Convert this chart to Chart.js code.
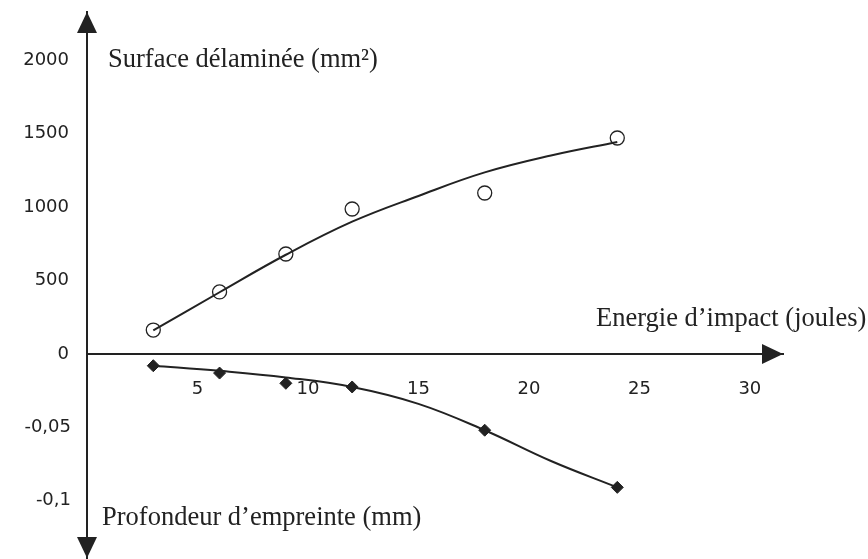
<!DOCTYPE html>
<html>
<head>
<meta charset="utf-8">
<script src="https://cdn.jsdelivr.net/npm/chart.js@4/dist/chart.umd.min.js"></script>
<style>
  html, body { margin: 0; padding: 0; background: #fff; overflow: hidden; }
  canvas { display: block; }
</style>
</head>
<body>
<canvas id="graph" width="868" height="559"></canvas>
<script>
// measured points
const energies = [3, 6, 9, 12, 18, 24];
const surfacePts = [163, 422, 680, 986, 1095, 1469];
const depthPts = [-0.008, -0.013, -0.020, -0.0225, -0.052, -0.091];

// fitted curves
const curveEnergies = [3, 6, 9, 12, 15, 18, 21, 24];
const surfaceCurve = [160, 420, 675, 900, 1075, 1235, 1350, 1442];
const depthCurve = [-0.008, -0.0115, -0.016, -0.0225, -0.034, -0.052, -0.073, -0.091];

// tick labels
const xTicks = [5, 10, 15, 20, 25, 30];
const surfaceTicks = [0, 500, 1000, 1500, 2000];
const depthTicks = [-0.05, -0.1];

const ink = "#222";
const tickFont = { family: "DejaVu Sans", size: 18 };

function pairs(xs, ys) {
    return xs.map((x, i) => ({ x: x, y: ys[i] }));
}

function noPad(s) {
    s.paddingTop = 0;
    s.paddingBottom = 0;
    s.paddingLeft = 0;
    s.paddingRight = 0;
}

// arrows at the ends of both axes + the axis captions
const axisDecor = {
    id: "axisDecor",
    afterDraw(chart) {
        const c = chart.ctx;
        const area = chart.chartArea;
        const x0 = chart.scales.x.getPixelForValue(0);
        const y0 = chart.scales.y.getPixelForValue(0);
        c.save();
        c.fillStyle = ink;
        // up arrow
        c.beginPath();
        c.moveTo(x0, area.top);
        c.lineTo(x0 - 10, area.top + 21);
        c.lineTo(x0 + 10, area.top + 21);
        c.closePath();
        c.fill();
        // down arrow
        c.beginPath();
        c.moveTo(x0, area.bottom);
        c.lineTo(x0 - 10, area.bottom - 21);
        c.lineTo(x0 + 10, area.bottom - 21);
        c.closePath();
        c.fill();
        // right arrow
        c.beginPath();
        c.moveTo(area.right, y0);
        c.lineTo(area.right - 21, y0 - 10);
        c.lineTo(area.right - 21, y0 + 10);
        c.closePath();
        c.fill();

        c.font = "26.5px 'Liberation Serif'";
        c.textAlign = "left";
        c.textBaseline = "alphabetic";
        c.fillText("Surface délaminée (mm²)", 108, 67);
        c.fillText("Energie d’impact (joules)", 596, 326);
        c.fillText("Profondeur d’empreinte (mm)", 102, 525);
        c.restore();
    }
};

new Chart(document.getElementById("graph"), {
    type: "scatter",
    data: {
        datasets: [
            {
                label: "Surface (courbe)",
                data: pairs(curveEnergies, surfaceCurve),
                yAxisID: "y",
                showLine: true,
                tension: 0.4,
                borderColor: ink,
                borderWidth: 2,
                pointRadius: 0,
                clip: false
            },
            {
                label: "Surface",
                data: pairs(energies, surfacePts),
                yAxisID: "y",
                pointStyle: "circle",
                pointRadius: 7,
                borderColor: ink,
                borderWidth: 1.3,
                backgroundColor: "rgba(0,0,0,0)",
                clip: false
            },
            {
                label: "Profondeur (courbe)",
                data: pairs(curveEnergies, depthCurve),
                yAxisID: "yD",
                showLine: true,
                tension: 0.4,
                borderColor: ink,
                borderWidth: 2,
                pointRadius: 0,
                clip: false
            },
            {
                label: "Profondeur",
                data: pairs(energies, depthPts),
                yAxisID: "yD",
                pointStyle: "rectRot",
                pointRadius: 6,
                borderColor: ink,
                borderWidth: 1,
                backgroundColor: ink,
                clip: false
            }
        ]
    },
    options: {
        responsive: false,
        animation: false,
        layout: { autoPadding: false, padding: { left: 0, right: 85, top: 12, bottom: 1 } },
        plugins: {
            legend: { display: false },
            tooltip: { enabled: false }
        },
        scales: {
            x: {
                type: "linear",
                position: { y: 0 },
                min: 0,
                max: 31.5,
                afterBuildTicks: s => { s.ticks = xTicks.map(v => ({ value: v })); },
                afterFit: noPad,
                grid: { display: false, drawTicks: false },
                border: { display: true, color: ink, width: 2 },
                ticks: { color: ink, font: tickFont, padding: 25, callback: v => String(v) }
            },
            // upper half of the left column: delaminated surface
            y: {
                type: "linear",
                position: "left",
                stack: "left",
                stackWeight: 342,
                weight: 1,
                min: 0,
                max: 2326,
                afterBuildTicks: s => { s.ticks = surfaceTicks.map(v => ({ value: v })); },
                afterFit: s => { noPad(s); s.width = 87; },
                grid: { display: false, drawTicks: false },
                border: { display: true, color: ink, width: 2 },
                ticks: { color: ink, font: tickFont, padding: 18, callback: v => String(v) }
            },
            // lower half: indentation depth
            yD: {
                type: "linear",
                position: "left",
                stack: "left",
                stackWeight: 204,
                weight: 0,
                min: -0.1392,
                max: 0,
                afterBuildTicks: s => { s.ticks = depthTicks.map(v => ({ value: v })); },
                afterFit: s => { noPad(s); s.width = 87; },
                grid: { display: false, drawTicks: false },
                border: { display: true, color: ink, width: 2 },
                ticks: {
                    color: ink,
                    font: tickFont,
                    padding: 16,
                    callback: v => String(v).replace(".", ",")
                }
            }
        }
    },
    plugins: [axisDecor]
});
</script>
</body>
</html>
